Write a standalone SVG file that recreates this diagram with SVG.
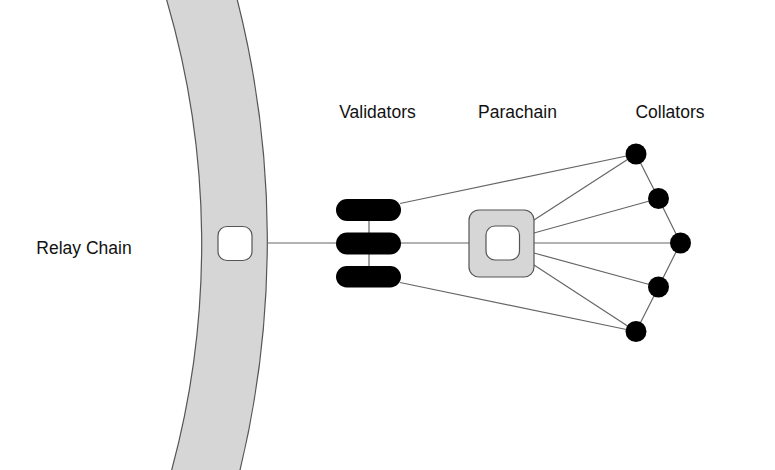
<svg xmlns="http://www.w3.org/2000/svg" width="775" height="470" viewBox="0 0 775 470">
  <style>
    .lbl { font-family: "Liberation Sans", Arial, sans-serif; font-size: 17.5px; fill: #111; text-anchor: middle; }
    .edge { stroke: #666; stroke-width: 1.2; fill: none; }
    .pill { fill: #000; }
    .dot { fill: #000; }
    .outline { stroke: #555; stroke-width: 1.2; }
  </style>
  <rect width="775" height="470" fill="#fff"/>
  <g id="relay-chain">
    <path class="outline" fill="#d6d6d6" d="M165.5,-4 A867,867 0 0 1 170.6,474 L239.05,474 A979,979 0 0 0 236.3,-4 Z"/>
    <rect x="218" y="226.5" width="34" height="34" rx="9" fill="#fff" class="outline"/>
    <text class="lbl" x="84" y="253.5">Relay Chain</text>
  </g>
  <g id="connectors">
    <line class="edge" x1="267" y1="243" x2="340" y2="243"/>
    <line class="edge" x1="369" y1="210" x2="369" y2="277"/>
    <line class="edge" x1="396" y1="243" x2="470" y2="243"/>
    <line class="edge" x1="400" y1="203.5" x2="636" y2="154"/>
    <line class="edge" x1="400" y1="282.5" x2="636" y2="331.5"/>
    <line class="edge" x1="534" y1="220" x2="636" y2="154"/>
    <line class="edge" x1="534" y1="233" x2="658.5" y2="198.5"/>
    <line class="edge" x1="534" y1="243" x2="680.5" y2="243"/>
    <line class="edge" x1="534" y1="253" x2="658.5" y2="287"/>
    <line class="edge" x1="534" y1="265" x2="636" y2="331.5"/>
    <polyline class="edge" points="636,154 658.5,198.5 680.5,243 658.5,287 636,331.5"/>
  </g>
  <g id="validators">
    <rect class="pill" x="336" y="199" width="65" height="22" rx="11"/>
    <rect class="pill" x="336" y="232.5" width="65" height="22" rx="11"/>
    <rect class="pill" x="336" y="266" width="65" height="21.5" rx="10.75"/>
    <text class="lbl" x="377.5" y="118">Validators</text>
  </g>
  <g id="parachain">
    <rect x="469" y="210" width="65" height="67" rx="10" fill="#d6d6d6" class="outline"/>
    <rect x="486" y="226" width="33.5" height="34" rx="9" fill="#fff" class="outline"/>
    <text class="lbl" x="517.5" y="118">Parachain</text>
  </g>
  <g id="collators">
    <circle class="dot" cx="636" cy="154" r="10.5"/>
    <circle class="dot" cx="658.5" cy="198.5" r="10.5"/>
    <circle class="dot" cx="680.5" cy="243" r="10.5"/>
    <circle class="dot" cx="658.5" cy="287" r="10.5"/>
    <circle class="dot" cx="636" cy="331.5" r="10.5"/>
    <text class="lbl" x="670" y="118">Collators</text>
  </g>
</svg>
